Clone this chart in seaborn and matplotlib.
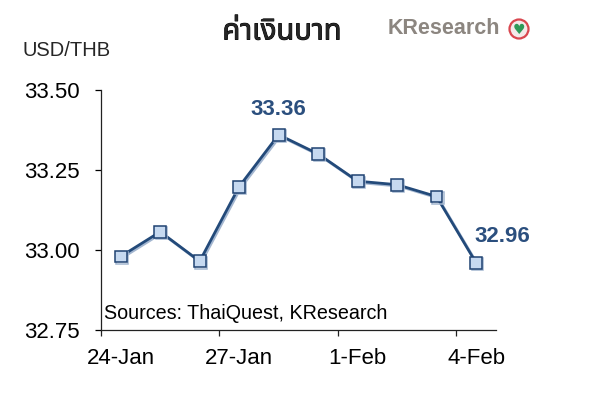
import matplotlib
matplotlib.use("Agg")
import matplotlib.pyplot as plt
import matplotlib.patheffects as pe
from matplotlib.patches import Ellipse
import seaborn as sns
import pandas as pd

dates = ["24-Jan", "25-Jan", "26-Jan", "27-Jan", "28-Jan", "29-Jan",
         "1-Feb", "2-Feb", "3-Feb", "4-Feb"]
usd_thb = [32.98, 33.057, 32.965, 33.198, 33.36, 33.30, 33.215, 33.204, 33.167, 32.96]
tick_labels = ["24-Jan", "27-Jan", "1-Feb", "4-Feb"]
title = "ค่าเงินบาท"

sns.set_style("ticks")
plt.rcParams["font.family"] = ["Liberation Sans", "DejaVu Sans"]

df = pd.DataFrame({"i": range(len(dates)), "date": dates, "v": usd_thb})

fig = plt.figure(figsize=(6.01, 4.2), dpi=100)
ax = fig.add_axes([0.168, 0.214, 0.657, 0.572])

line_c = "#234a7a"
sns.lineplot(data=df, x="i", y="v", ax=ax, color=line_c, linewidth=2.0,
             marker="s", markersize=8.5, markerfacecolor="#c6d9f0",
             markeredgecolor="#1f4272", markeredgewidth=1.1)
for l in ax.lines:
    l.set_path_effects([pe.SimpleLineShadow(offset=(1.0, -1.0), shadow_color="#a3b6d0", alpha=1.0),
                        pe.Normal()])

ax.set_xlim(-0.5, 9.5)
ax.set_ylim(32.75, 33.50)
ax.set_xticks([0, 3, 6, 9])
ax.set_xticklabels(tick_labels)
ax.set_xticks([-0.5, 2.5, 5.5, 8.5], minor=True)
ax.set_yticks([32.75, 33.00, 33.25, 33.50])
ax.set_yticklabels(["32.75", "33.00", "33.25", "33.50"])
ax.set_xlabel("")
ax.set_ylabel("")
sns.despine(ax=ax)
for s in ["left", "bottom"]:
    ax.spines[s].set_linewidth(0.9)
    ax.spines[s].set_color("#222222")
ax.tick_params(axis="both", direction="out", length=4, width=0.9, labelsize=16, colors="black")
ax.tick_params(axis="y", pad=11)
ax.tick_params(axis="x", which="major", length=0, pad=13)
ax.tick_params(axis="x", which="minor", direction="out", length=4, width=0.9, colors="#222222")

ann_c = "#2b4f7e"
ax.annotate("33.36", (4, usd_thb[4]), xytext=(0, 18), textcoords="offset points",
            ha="center", va="center", fontsize=16, fontweight="bold", color=ann_c)
ax.annotate("32.96", (9, usd_thb[9]), xytext=(19, 19), textcoords="offset points",
            ha="center", va="center", fontsize=16, fontweight="bold", color=ann_c)

ax.text(0.007, 0.028, "Sources: ThaiQuest, KResearch", transform=ax.transAxes,
        fontsize=14.2, ha="left", va="bottom", color="black")

fig.text(22 / 601, 1 - 51 / 420, "USD/THB", fontsize=14.5, ha="left", va="center")
fig.text(282 / 601, 1 - 32 / 420, title, fontsize=21, fontweight="bold", ha="center", va="center",
         family=["Noto Sans Thai", "Loma", "Garuda", "Noto Sans", "DejaVu Sans"],
         path_effects=[pe.withStroke(linewidth=0.7, foreground="black")])
fig.text(444 / 601, 1 - 29 / 420, "KResearch", fontsize=15.5, fontweight="bold", ha="center", va="center",
         color="#8c8680", family=["Liberation Sans Narrow", "Liberation Sans"])
fig.patches.append(Ellipse((519 / 601, 1 - 29 / 420), 19 / 601, 19 / 420, transform=fig.transFigure,
                           facecolor="#f4e9e9", edgecolor="#d9474f", linewidth=1.6))
fig.text(519 / 601, 1 - 29.5 / 420, "♥", fontsize=10, ha="center", va="center", color="#2e9a58",
         family=["DejaVu Sans"])

fig.savefig("out.png", dpi=100)
